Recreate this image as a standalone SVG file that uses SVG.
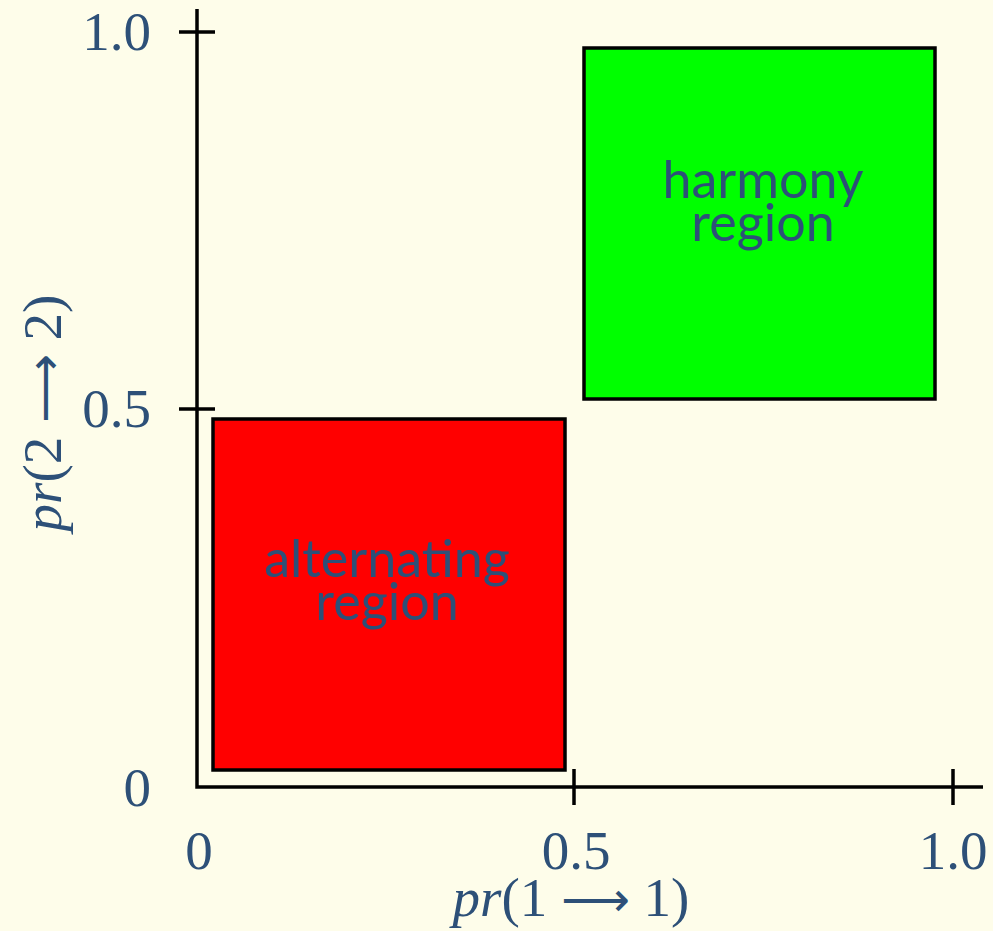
<svg xmlns="http://www.w3.org/2000/svg" width="993" height="931" viewBox="0 0 993 931">
<style>
.ax{stroke:#000;stroke-width:3.5;fill:none}
.box{stroke:#000;stroke-width:3.5}
.num{font-family:"Liberation Serif",serif;font-size:55px;fill:#2d5078}
.arr{font-family:"DejaVu Sans",sans-serif;font-size:48px}
.lab{font-family:Lato,"Open Sans",sans-serif;font-size:52px;fill:#2d5078;text-anchor:middle}
</style>
<rect width="993" height="931" fill="#fefdea"/>
<g id="axes">
<path class="ax" d="M197,9 V787 H983"/>
<path class="ax" d="M179,32 H215 M179,409 H215 M574,769 V805 M953,769 V805"/>
</g>
<g id="alternating">
<rect class="box" x="213" y="419" width="352" height="351" fill="#ff0000"/>
<text class="lab" x="387" y="577">alternating</text>
<text class="lab" x="387" y="620">region</text>
</g>
<g id="harmony">
<rect class="box" x="584" y="48" width="351" height="351" fill="#00ff00"/>
<text class="lab" x="763" y="198">harmony</text>
<text class="lab" x="763" y="241">region</text>
</g>
<g id="ticklabels">
<text class="num" x="151" y="50" text-anchor="end">1.0</text>
<text class="num" x="151" y="427" text-anchor="end">0.5</text>
<text class="num" x="151" y="806" text-anchor="end">0</text>
<text class="num" x="199" y="869" text-anchor="middle">0</text>
<text class="num" x="576" y="869" text-anchor="middle">0.5</text>
<text class="num" x="953" y="869" text-anchor="middle">1.0</text>
</g>
<g id="titles">
<text class="num" x="571" y="916" text-anchor="middle"><tspan font-style="italic">pr</tspan>(1 <tspan class="arr">⟶</tspan> 1)</text>
<text class="num" transform="translate(61,413) rotate(-90)" text-anchor="middle"><tspan font-style="italic">pr</tspan>(2 <tspan class="arr">⟶</tspan> 2)</text>
</g>
</svg>
